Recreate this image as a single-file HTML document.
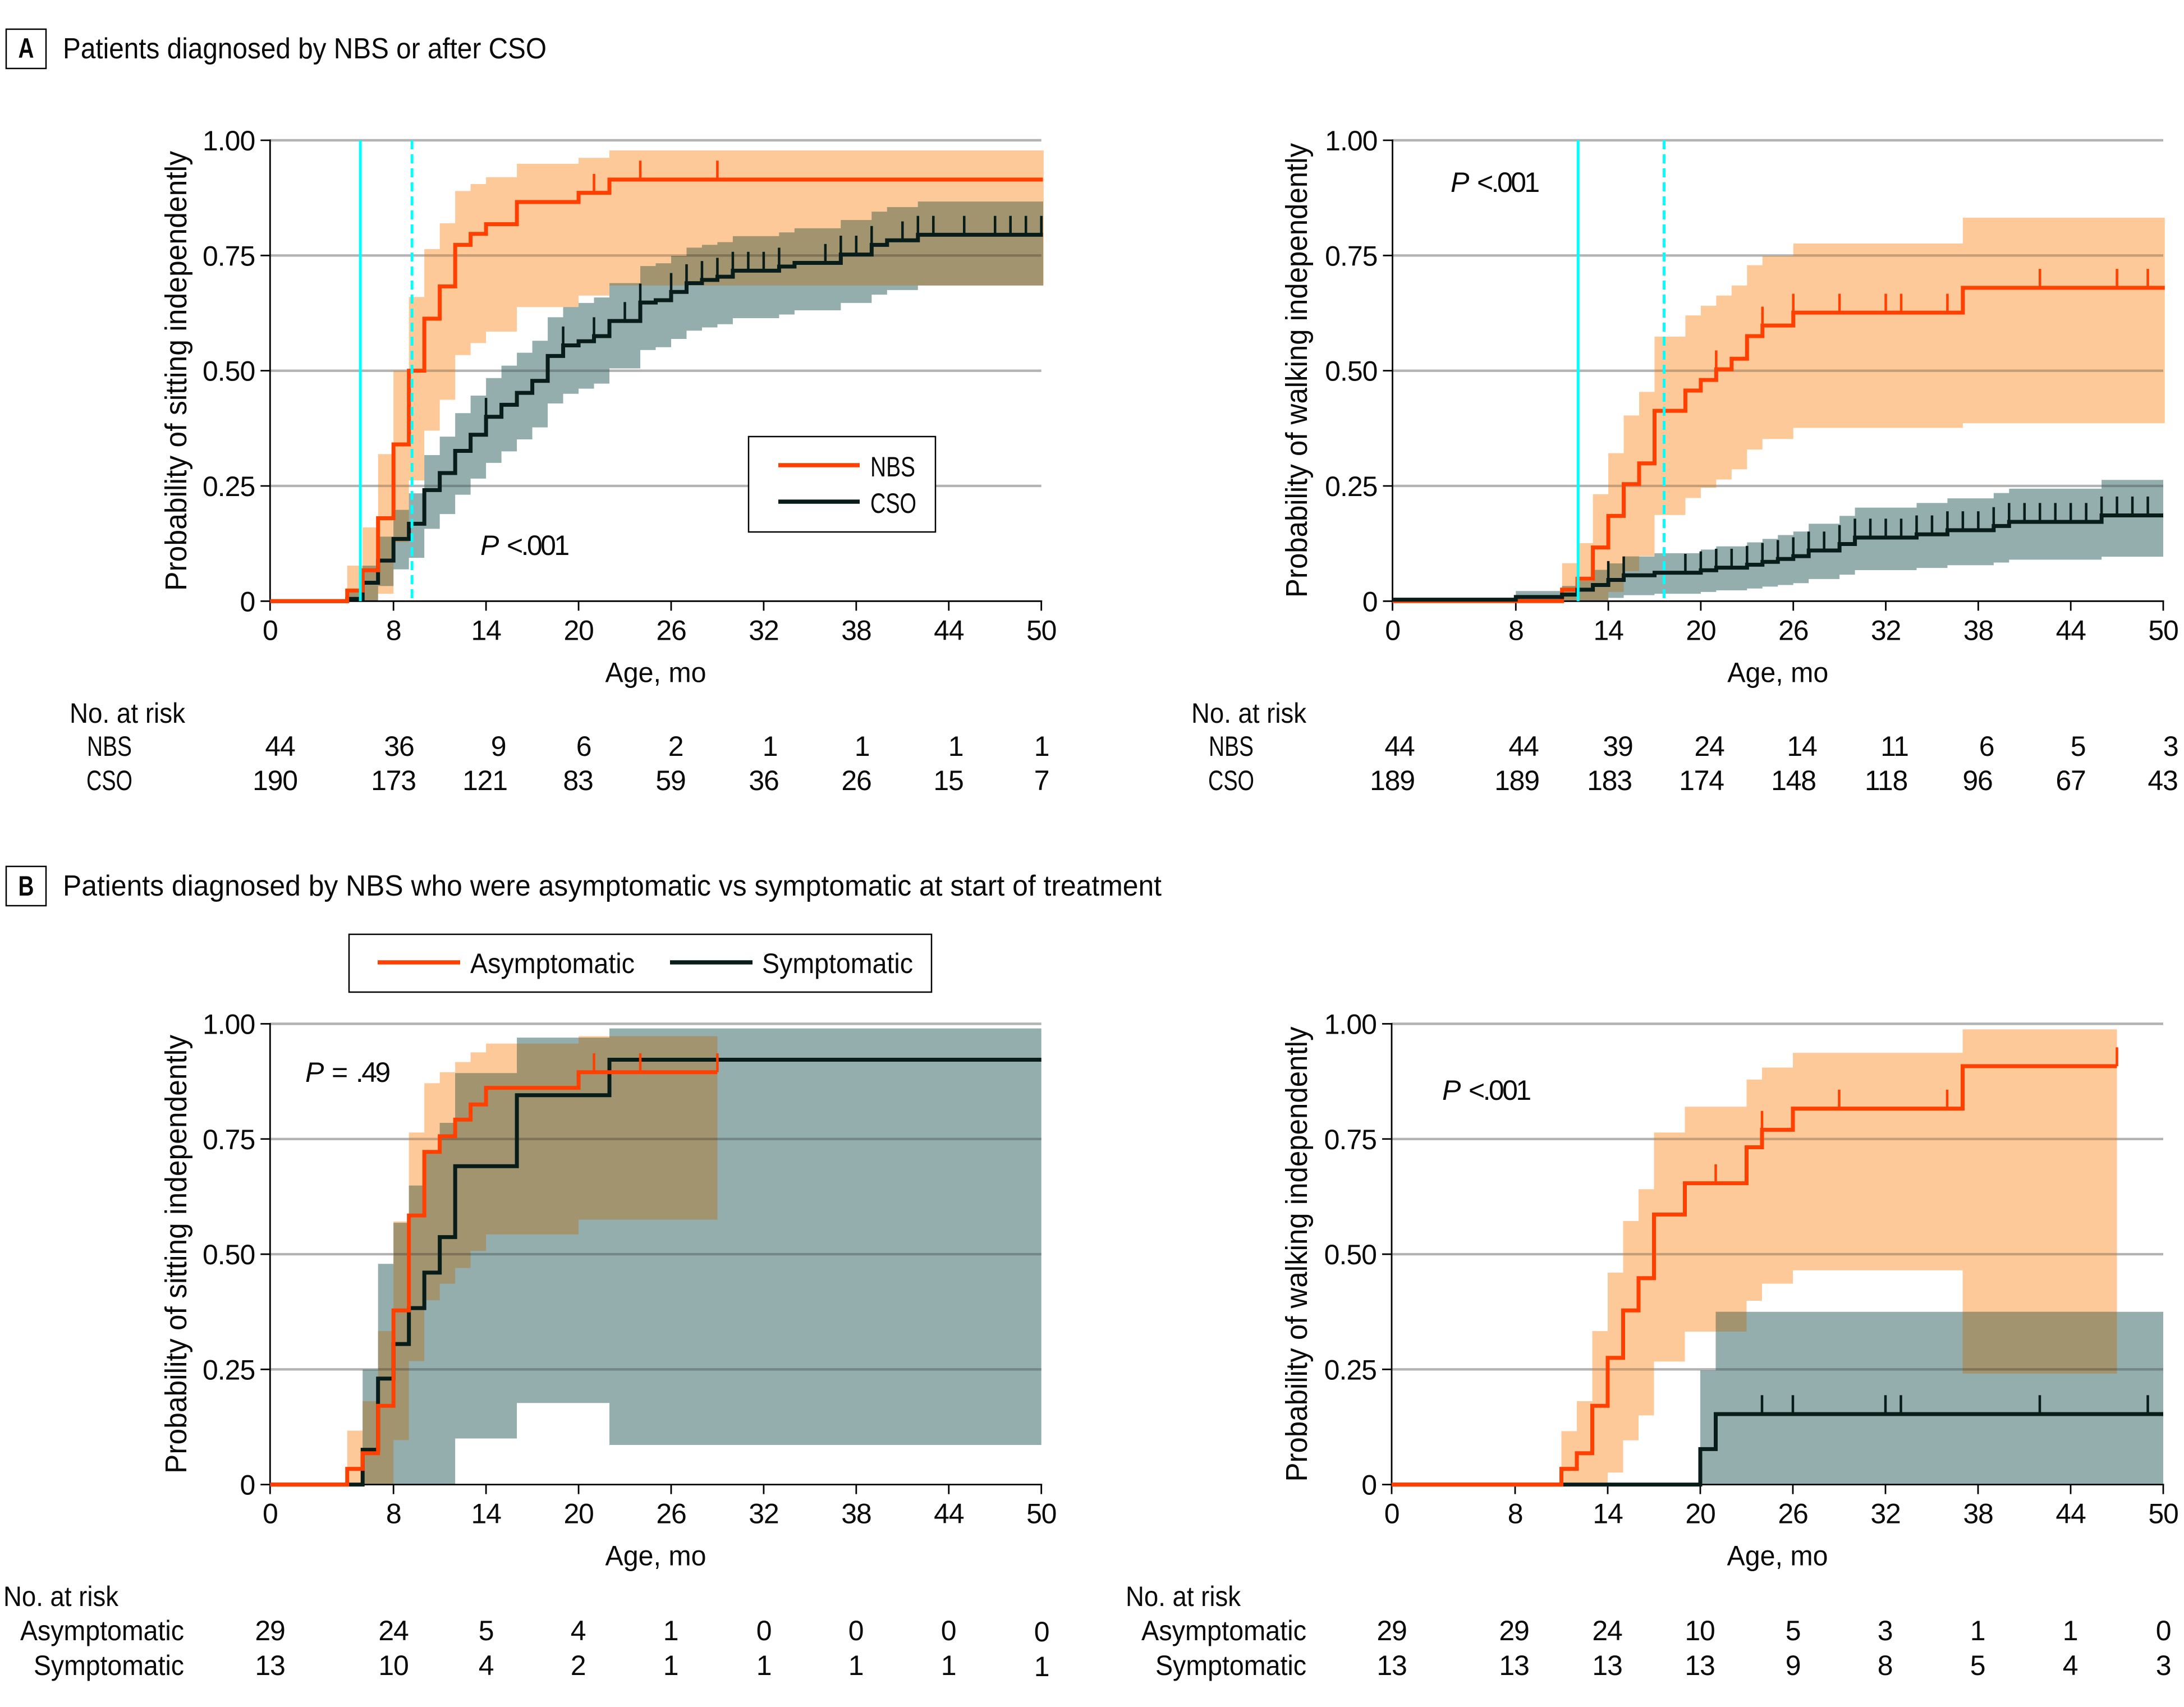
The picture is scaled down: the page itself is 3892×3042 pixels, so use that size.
<!DOCTYPE html>
<html lang="en">
<head>
<meta charset="utf-8">
<title>Kaplan-Meier motor milestones</title>
<style>
html,body{margin:0;padding:0;background:#fff;width:3892px;height:3042px;overflow:hidden}
svg{display:block}
text{font-family:"Liberation Sans",sans-serif;font-size:50px;fill:#0a0a0a}
.n{text-anchor:middle;letter-spacing:-1.2px}
.r{text-anchor:end}
.m{text-anchor:middle}
.title{font-size:52px}
.pv{letter-spacing:-3.6px;word-spacing:7px}
</style>
</head>
<body>
<svg xmlns="http://www.w3.org/2000/svg" width="3892" height="3042" viewBox="0 0 3892 3042">
<rect x="0" y="0" width="3892" height="3042" fill="#fff"/>

<g id="chart-a-sit"></g>
<g id="chart-a-walk"></g>
<g id="chart-b-sit"></g>
<g id="chart-b-walk"></g>

<rect x="11" y="52" width="71" height="70" fill="#fff" stroke="#000" stroke-width="2.5"/>
<text x="46.5" y="103" class="m" style="font-weight:700" textLength="28" lengthAdjust="spacingAndGlyphs">A</text>
<text x="112" y="104" class="title" textLength="862" lengthAdjust="spacingAndGlyphs">Patients diagnosed by NBS or after CSO</text>

<rect x="11" y="1544" width="71" height="70" fill="#fff" stroke="#000" stroke-width="2.5"/>
<text x="46.5" y="1596" class="m" style="font-weight:700" textLength="28" lengthAdjust="spacingAndGlyphs">B</text>
<text x="112" y="1596" class="title" textLength="1958" lengthAdjust="spacingAndGlyphs">Patients diagnosed by NBS who were asymptomatic vs symptomatic at start of treatment</text>

<g>
<rect x="1334" y="778" width="333" height="170" fill="#fff" stroke="#000" stroke-width="2.5"/>
<line x1="1387" x2="1532" y1="829" y2="829" stroke="#ff4000" stroke-width="7.5"/>
<text x="1551" y="849" textLength="80" lengthAdjust="spacingAndGlyphs">NBS</text>
<line x1="1387" x2="1532" y1="894" y2="894" stroke="#081c1a" stroke-width="7.5"/>
<text x="1551" y="914" textLength="82" lengthAdjust="spacingAndGlyphs">CSO</text>
</g>

<g>
<rect x="622" y="1665" width="1038" height="103" fill="#fff" stroke="#000" stroke-width="2.5"/>
<line x1="673" x2="820" y1="1715" y2="1715" stroke="#ff4000" stroke-width="7.5"/>
<text x="838" y="1734" textLength="293" lengthAdjust="spacingAndGlyphs">Asymptomatic</text>
<line x1="1194" x2="1341" y1="1715" y2="1715" stroke="#081c1a" stroke-width="7.5"/>
<text x="1358" y="1734" textLength="269" lengthAdjust="spacingAndGlyphs">Symptomatic</text>
</g>

<text x="856" y="989" class="pv"><tspan style="font-style:italic">P</tspan> &lt;.001</text>
<text x="2585" y="342" class="pv"><tspan style="font-style:italic">P</tspan> &lt;.001</text>
<text x="544" y="1928" class="pv"><tspan style="font-style:italic">P</tspan> = .49</text>
<text x="2570" y="1960" class="pv"><tspan style="font-style:italic">P</tspan> &lt;.001</text>

<g>
<text x="124" y="1288" textLength="206" lengthAdjust="spacingAndGlyphs">No. at risk</text>
<text x="195" y="1347" class="m" textLength="80" lengthAdjust="spacingAndGlyphs">NBS</text>
<text x="195" y="1408" class="m" textLength="82" lengthAdjust="spacingAndGlyphs">CSO</text>
<text x="499" y="1347" class="n">44</text><text x="711" y="1347" class="n">36</text><text x="888" y="1347" class="n">9</text><text x="1040" y="1347" class="n">6</text><text x="1204" y="1347" class="n">2</text><text x="1372" y="1347" class="n">1</text><text x="1536" y="1347" class="n">1</text><text x="1703" y="1347" class="n">1</text><text x="1856" y="1347" class="n">1</text>
<text x="490" y="1408" class="n">190</text><text x="701" y="1408" class="n">173</text><text x="864" y="1408" class="n">121</text><text x="1030" y="1408" class="n">83</text><text x="1195" y="1408" class="n">59</text><text x="1361" y="1408" class="n">36</text><text x="1526" y="1408" class="n">26</text><text x="1690" y="1408" class="n">15</text><text x="1856" y="1408" class="n">7</text>
</g>

<g>
<text x="2123" y="1288" textLength="205" lengthAdjust="spacingAndGlyphs">No. at risk</text>
<text x="2194" y="1347" class="m" textLength="80" lengthAdjust="spacingAndGlyphs">NBS</text>
<text x="2194" y="1408" class="m" textLength="82" lengthAdjust="spacingAndGlyphs">CSO</text>
<text x="2494" y="1347" class="n">44</text><text x="2715" y="1347" class="n">44</text><text x="2883" y="1347" class="n">39</text><text x="3046" y="1347" class="n">24</text><text x="3211" y="1347" class="n">14</text><text x="3376" y="1347" class="n">11</text><text x="3540" y="1347" class="n">6</text><text x="3703" y="1347" class="n">5</text><text x="3868" y="1347" class="n">3</text>
<text x="2481" y="1408" class="n">189</text><text x="2703" y="1408" class="n">189</text><text x="2868" y="1408" class="n">183</text><text x="3032" y="1408" class="n">174</text><text x="3196" y="1408" class="n">148</text><text x="3361" y="1408" class="n">118</text><text x="3524" y="1408" class="n">96</text><text x="3690" y="1408" class="n">67</text><text x="3854" y="1408" class="n">43</text>
</g>

<g>
<text x="6" y="2862" textLength="205" lengthAdjust="spacingAndGlyphs">No. at risk</text>
<text x="36" y="2923" textLength="292" lengthAdjust="spacingAndGlyphs">Asymptomatic</text>
<text x="60" y="2985" textLength="268" lengthAdjust="spacingAndGlyphs">Symptomatic</text>
<text x="481" y="2923" class="n">29</text><text x="701" y="2923" class="n">24</text><text x="866" y="2923" class="n">5</text><text x="1030" y="2923" class="n">4</text><text x="1195" y="2923" class="n">1</text><text x="1361" y="2923" class="n">0</text><text x="1525" y="2923" class="n">0</text><text x="1690" y="2923" class="n">0</text><text x="1856" y="2925" class="n">0</text>
<text x="481" y="2985" class="n">13</text><text x="701" y="2985" class="n">10</text><text x="866" y="2985" class="n">4</text><text x="1030" y="2985" class="n">2</text><text x="1195" y="2985" class="n">1</text><text x="1361" y="2985" class="n">1</text><text x="1525" y="2985" class="n">1</text><text x="1690" y="2985" class="n">1</text><text x="1856" y="2987" class="n">1</text>
</g>

<g>
<text x="2006" y="2862" textLength="205" lengthAdjust="spacingAndGlyphs">No. at risk</text>
<text x="2034" y="2923" textLength="294" lengthAdjust="spacingAndGlyphs">Asymptomatic</text>
<text x="2059" y="2985" textLength="269" lengthAdjust="spacingAndGlyphs">Symptomatic</text>
<text x="2480" y="2923" class="n">29</text><text x="2698" y="2923" class="n">29</text><text x="2864" y="2923" class="n">24</text><text x="3029" y="2923" class="n">10</text><text x="3195" y="2923" class="n">5</text><text x="3359" y="2923" class="n">3</text><text x="3524" y="2923" class="n">1</text><text x="3689" y="2923" class="n">1</text><text x="3855" y="2923" class="n">0</text>
<text x="2480" y="2985" class="n">13</text><text x="2698" y="2985" class="n">13</text><text x="2864" y="2985" class="n">13</text><text x="3029" y="2985" class="n">13</text><text x="3195" y="2985" class="n">9</text><text x="3359" y="2985" class="n">8</text><text x="3524" y="2985" class="n">5</text><text x="3689" y="2985" class="n">4</text><text x="3855" y="2985" class="n">3</text>
</g>
</svg>

<script>
/* ---- shared axis labels ---- */
const xTickLabels = [0, 8, 14, 20, 26, 32, 38, 44, 50];
const yTickValues = [0, 0.25, 0.5, 0.75, 1];
const yTickLabels = ['0', '0.25', '0.50', '0.75', '1.00'];

/* ---- A, sitting ---- */
const aSitNbsMonths = [0,5,6,7,8,9,10,11,12,13,14,16,20,22,50.1];
const aSitNbsProb = [0,.023,.067,.18,.34,.50,.613,.683,.773,.797,.818,.866,.886,.9148];
const aSitNbsBandMonths = [5,6,7,8,9,10,11,12,13,14,16,20,22,50.15];
const aSitNbsUpper = [.077,.16,.319,.50,.66,.764,.82,.89,.905,.92,.949,.962,.978];
const aSitNbsLower = [0,0,.016,.128,.262,.37,.437,.534,.56,.585,.638,.663,.685];
const aSitNbsCensored = [21,24,29];
const aSitCsoMonths = [0,5,6,7,8,9,10,11,12,13,14,15,16,17,18,19,20,21,22,24,25,26,27,28,29,30,33,34,37,39,40,42,50.1];
const aSitCsoProb = [0,.005,.04,.088,.135,.168,.241,.278,.326,.361,.40,.426,.452,.478,.532,.555,.564,.575,.608,.648,.653,.671,.69,.697,.704,.717,.726,.734,.752,.773,.783,.795];
const aSitCsoBandMonths = [5,6,7,8,9,10,11,12,13,14,15,16,17,18,19,20,21,22,24,25,26,27,28,29,30,33,34,37,39,40,42,50.12];
const aSitCsoUpper = [.02,.077,.14,.198,.234,.317,.357,.408,.446,.484,.511,.539,.565,.616,.638,.647,.659,.69,.727,.733,.749,.767,.773,.779,.792,.80,.809,.827,.845,.855,.867];
const aSitCsoLower = [0,0,.033,.069,.094,.157,.189,.231,.266,.30,.325,.351,.377,.429,.45,.461,.472,.505,.545,.551,.569,.587,.594,.601,.614,.622,.631,.647,.665,.675,.685];
const aSitCsoCensored = [14,19,21,23,24,26,27,28,29,30,31,32,33,36,37,38,39,41,42,43,45,47,48,49,50];

/* ---- A, walking ---- */
const aWalkNbsMonths = [0,11,12,13,14,15,16,17,19,20,21,22,23,24,26,37,50.1];
const aWalkNbsProb = [0,.025,.0487,.1165,.185,.254,.299,.413,.457,.48,.503,.526,.575,.598,.626,.68];
const aWalkNbsBandMonths = [11,12,13,14,15,16,17,19,20,21,22,23,24,26,37,50.1];
const aWalkNbsUpper = [.0824,.126,.232,.321,.403,.454,.574,.62,.641,.663,.685,.729,.749,.776,.832];
const aWalkNbsLower = [0,0,0,.02,.065,.098,.187,.224,.246,.264,.286,.329,.352,.376,.386];
const aWalkNbsCensored = [21,24,26,29,32,33,36,42,47,49];
const aWalkCsoMonths = [0,8,11,12,13,14,15,17,20,21,23,24,25,26,27,29,30,34,36,39,40,46,50];
const aWalkCsoProb = [.0032,.009,.0142,.0248,.035,.046,.056,.0617,.067,.0727,.079,.0853,.0915,.0976,.11,.124,.138,.145,.154,.163,.172,.186];
const aWalkCsoBandMonths = [8,11,12,13,14,15,17,20,21,23,24,25,26,27,29,30,34,36,39,40,46,50];
const aWalkCsoUpper = [.022,.033,.044,.068,.082,.097,.104,.112,.119,.1276,.135,.1435,.151,.168,.185,.203,.213,.223,.2346,.244,.263];
const aWalkCsoLower = [.002,.002,.002,.002,.007,.013,.016,.02,.0235,.0275,.0316,.035,.039,.048,.0574,.0673,.072,.078,.0837,.09,.0964];
const aWalkCsoCensored = [14,15,19,20,21,22,23,24,25,26,27,28,29,30,31,32,33,34,35,36,37,38,39,40,41,42,43,44,45,46,47,48,49];

/* ---- B, sitting ---- */
const bSitAsymMonths = [0,5,6,7,8,9,10,11,12,13,14,20,29];
const bSitAsymProb = [0,.034,.068,.171,.378,.584,.722,.756,.792,.825,.861,.895];
const bSitAsymBandMonths = [5,6,7,8,9,10,11,12,13,14,20,29];
const bSitAsymUpper = [.117,.181,.333,.571,.764,.871,.895,.917,.938,.957,.973];
const bSitAsymLower = [0,0,0,.0965,.268,.40,.436,.47,.507,.543,.575];
const bSitAsymCensored = [21,24,29];
const bSitSymMonths = [0,6,7,8,9,10,11,12,16,22,50];
const bSitSymProb = [0,.0755,.23,.305,.383,.46,.537,.691,.845,.922];
const bSitSymBandMonths = [6,7,8,9,10,11,12,16,22,50];
const bSitSymUpper = [.25,.479,.568,.649,.72,.785,.893,.97,.99];
const bSitSymLower = [0,0,0,0,0,0,.10,.177,.086];
const bSitSymCensored = [];

/* ---- B, walking ---- */
const bWalkAsymMonths = [0,11,12,13,14,15,16,17,19,23,24,26,37,47];
const bWalkAsymProb = [0,.034,.068,.171,.275,.378,.448,.586,.654,.732,.77,.816,.908];
const bWalkAsymBandMonths = [11,12,13,14,15,16,17,19,23,24,26,37,47];
const bWalkAsymUpper = [.116,.181,.333,.46,.572,.641,.764,.82,.879,.905,.937,.988];
const bWalkAsymLower = [0,0,0,.026,.096,.15,.267,.332,.399,.436,.465,.241];
const bWalkAsymCensored = [21,24,29,36,47];
const bWalkSymMonths = [0,20,21,50];
const bWalkSymProb = [0,.077,.153];
const bWalkSymBandMonths = [20,21,50];
const bWalkSymUpper = [.248,.375];
const bWalkSymLower = [0,0];
const bWalkSymCensored = [24,26,32,33,42,49];

/* ---- vertical reference ages ---- */
const aSitMedianAges = [5.85, 9.2];
const aWalkMedianAges = [12.04, 17.62];

const NS = 'http://www.w3.org/2000/svg';
const ORANGE = '#ff4000', DARK = '#081c1a', BAND_O = '#fdc998', BAND_T = '#94aeae', BAND_MIX = '#a39470', CYAN = '#00ffff';
let clipCounter = 0;

function stepPath(months, probs, x, y) {
  let d = 'M' + x(months[0]) + ' ' + y(probs[0]);
  for (let i = 1; i < months.length; i++) {
    d += 'H' + x(months[i]);
    if (i < probs.length) d += 'V' + y(probs[i]);
  }
  return d;
}

function bandPath(months, upper, lower, x, y) {
  let d = 'M' + x(months[0]) + ' ' + y(upper[0]);
  for (let i = 1; i < months.length; i++) {
    d += 'H' + x(months[i]);
    if (i < upper.length) d += 'V' + y(upper[i]);
  }
  d += 'V' + y(lower[lower.length - 1]);
  for (let i = lower.length - 1; i >= 0; i--) {
    d += 'H' + x(months[i]);
    if (i > 0) d += 'V' + y(lower[i - 1]);
  }
  return d + 'Z';
}

function probAt(months, probs, m) {
  let p = probs[0];
  for (let i = 0; i < probs.length; i++) if (m >= months[i]) p = probs[i];
  return p;
}

function drawChart(cfg) {
  const root = document.getElementById(cfg.id);
  const x = m => cfg.x0 + (m / 50) * (cfg.x50 - cfg.x0);
  const y = v => cfg.y0 - v * (cfg.y0 - cfg.y1);

  /* base gridlines, visible on the white background */
  yTickValues.forEach(function (v) {
    if (v === 0) return;
    const g = document.createElementNS(NS, 'line');
    
    
    g.setAttribute('x1', x(0));
    g.setAttribute('x2', x(50));
    g.setAttribute('y1', y(v));
    g.setAttribute('y2', y(v));
    g.setAttribute('stroke', '#b3b3b3');
    g.setAttribute('stroke-width', '4.4');
    root.appendChild(g);
  });

  /* bands */
  const dO = bandPath(cfg.orange.bandMonths, cfg.orange.upper, cfg.orange.lower, x, y);
  const dT = bandPath(cfg.dark.bandMonths, cfg.dark.upper, cfg.dark.lower, x, y);
  const bandO = document.createElementNS(NS, 'path');
  
  
  bandO.setAttribute('d', dO);
  bandO.setAttribute('fill', BAND_O);
  root.appendChild(bandO);
  const bandT = document.createElementNS(NS, 'path');
  
  
  bandT.setAttribute('d', dT);
  bandT.setAttribute('fill', BAND_T);
  root.appendChild(bandT);
  const clip = document.createElementNS(NS, 'clipPath');
  clip.setAttribute('id', 'overlap-clip-' + (++clipCounter));
  const clipShape = document.createElementNS(NS, 'path');
  clipShape.setAttribute('d', dO);
  clip.appendChild(clipShape);
  root.appendChild(clip);
  const overlap = document.createElementNS(NS, 'path');
  
  
  overlap.setAttribute('d', dT);
  overlap.setAttribute('fill', BAND_MIX);
  overlap.setAttribute('clip-path', 'url(#overlap-clip-' + clipCounter + ')');
  root.appendChild(overlap);

  /* gridlines shaded through the bands */
  const unionClip = document.createElementNS(NS, 'clipPath');
  unionClip.setAttribute('id', 'band-clip-' + clipCounter);
  const unionO = document.createElementNS(NS, 'path');
  unionO.setAttribute('d', dO);
  unionClip.appendChild(unionO);
  const unionT = document.createElementNS(NS, 'path');
  unionT.setAttribute('d', dT);
  unionClip.appendChild(unionT);
  root.appendChild(unionClip);
  yTickValues.forEach(function (v) {
    if (v === 0) return;
    const g = document.createElementNS(NS, 'line');
    
    
    g.setAttribute('x1', x(0));
    g.setAttribute('x2', x(50));
    g.setAttribute('y1', y(v));
    g.setAttribute('y2', y(v));
    g.setAttribute('stroke', '#000');
    g.setAttribute('stroke-opacity', '0.22');
    g.setAttribute('stroke-width', '4.4');
    g.setAttribute('clip-path', 'url(#band-clip-' + clipCounter + ')');
    root.appendChild(g);
  });

  /* axes */
  const axisY = document.createElementNS(NS, 'line');
  
  
  axisY.setAttribute('x1', x(0));
  axisY.setAttribute('x2', x(0));
  axisY.setAttribute('y1', y(1) - 1.5);
  axisY.setAttribute('y2', y(0) + 1.5);
  axisY.setAttribute('stroke', '#000');
  axisY.setAttribute('stroke-width', '2.8');
  root.appendChild(axisY);
  const axisX = document.createElementNS(NS, 'line');
  
  
  axisX.setAttribute('x1', x(0) - 1.5);
  axisX.setAttribute('x2', x(50) + 1.5);
  axisX.setAttribute('y1', y(0));
  axisX.setAttribute('y2', y(0));
  axisX.setAttribute('stroke', '#000');
  axisX.setAttribute('stroke-width', '2.8');
  root.appendChild(axisX);

  xTickLabels.forEach(function (m) {
    const t = document.createElementNS(NS, 'line');
    
    
    t.setAttribute('x1', x(m));
    t.setAttribute('x2', x(m));
    t.setAttribute('y1', y(0));
    t.setAttribute('y2', y(0) + 17);
    t.setAttribute('stroke', '#000');
    t.setAttribute('stroke-width', '2.8');
    root.appendChild(t);
    const l = document.createElementNS(NS, 'text');
    
    
    l.setAttribute('x', x(m));
    l.setAttribute('y', y(0) + 69);
    l.setAttribute('class', 'n');
    l.textContent = String(m);
    root.appendChild(l);
  });
  yTickValues.forEach(function (v, i) {
    const t = document.createElementNS(NS, 'line');
    
    
    t.setAttribute('x1', x(0) - 17);
    t.setAttribute('x2', x(0));
    t.setAttribute('y1', y(v));
    t.setAttribute('y2', y(v));
    t.setAttribute('stroke', '#000');
    t.setAttribute('stroke-width', '2.8');
    root.appendChild(t);
    const l = document.createElementNS(NS, 'text');
    
    
    l.setAttribute('x', x(0) - 27);
    l.setAttribute('y', y(v) + 18);
    l.setAttribute('class', 'r');
    l.setAttribute('style', 'letter-spacing:-1px');
    l.textContent = yTickLabels[i];
    root.appendChild(l);
  });

  /* axis titles */
  const xTitle = document.createElementNS(NS, 'text');
  
  
  xTitle.setAttribute('x', x(25));
  xTitle.setAttribute('y', y(0) + cfg.xTitleOffset);
  xTitle.setAttribute('class', 'm');
  xTitle.setAttribute('textLength', '180');
  xTitle.setAttribute('lengthAdjust', 'spacingAndGlyphs');
  xTitle.textContent = 'Age, mo';
  root.appendChild(xTitle);
  const yTitle = document.createElementNS(NS, 'text');
  
  
  yTitle.setAttribute('transform', 'translate(' + cfg.yTitleX + ' ' + cfg.yTitleY + ') rotate(-90)');
  yTitle.setAttribute('class', 'm');
  yTitle.setAttribute('style', 'font-size:54px');
  yTitle.setAttribute('textLength', cfg.yTitleLen);
  yTitle.setAttribute('lengthAdjust', 'spacingAndGlyphs');
  yTitle.textContent = cfg.yTitle;
  root.appendChild(yTitle);

  /* series */
  const order = cfg.darkOnTop ? [cfg.orange, cfg.dark] : [cfg.dark, cfg.orange];
  order.forEach(function (s) {
    const colour = s === cfg.orange ? ORANGE : DARK;
    s.censored.forEach(function (m) {
      const p = probAt(s.months, s.probs, m);
      const c = document.createElementNS(NS, 'line');
      
      
      c.setAttribute('x1', x(m));
      c.setAttribute('x2', x(m));
      c.setAttribute('y1', y(p));
      c.setAttribute('y2', y(p + 0.041));
      c.setAttribute('stroke', colour);
      c.setAttribute('stroke-width', '4.5');
      root.appendChild(c);
    });
    const line = document.createElementNS(NS, 'path');
    
    
    line.setAttribute('d', stepPath(s.months, s.probs, x, y));
    line.setAttribute('fill', 'none');
    line.setAttribute('stroke', colour);
    line.setAttribute('stroke-width', '7');
    line.setAttribute('stroke-linejoin', 'miter');
    root.appendChild(line);
  });

  /* median age reference lines */
  if (cfg.medians) {
    const solid = document.createElementNS(NS, 'line');
    
    
    solid.setAttribute('x1', x(cfg.medians[0]));
    solid.setAttribute('x2', x(cfg.medians[0]));
    solid.setAttribute('y1', y(1));
    solid.setAttribute('y2', y(0));
    solid.setAttribute('stroke', CYAN);
    solid.setAttribute('stroke-width', '5');
    root.appendChild(solid);
    const dashed = document.createElementNS(NS, 'line');
    
    
    dashed.setAttribute('x1', x(cfg.medians[1]));
    dashed.setAttribute('x2', x(cfg.medians[1]));
    dashed.setAttribute('y1', y(1));
    dashed.setAttribute('y2', y(0) - 4);
    dashed.setAttribute('stroke', CYAN);
    dashed.setAttribute('stroke-width', '5');
    dashed.setAttribute('stroke-dasharray', '16 9');
    root.appendChild(dashed);
  }
}

drawChart({
  id: 'chart-a-sit', x0: 481.3, x50: 1855.7, y0: 1071.3, y1: 250, xTitleOffset: 144,
  yTitle: 'Probability of sitting independently', yTitleX: 332, yTitleY: 661, yTitleLen: 784,
  medians: aSitMedianAges, darkOnTop: false,
  orange: { name: 'nbs', months: aSitNbsMonths, probs: aSitNbsProb, bandMonths: aSitNbsBandMonths, upper: aSitNbsUpper, lower: aSitNbsLower, censored: aSitNbsCensored },
  dark: { name: 'cso', months: aSitCsoMonths, probs: aSitCsoProb, bandMonths: aSitCsoBandMonths, upper: aSitCsoUpper, lower: aSitCsoLower, censored: aSitCsoCensored }
});
drawChart({
  id: 'chart-a-walk', x0: 2481.5, x50: 3855, y0: 1071.3, y1: 250, xTitleOffset: 144,
  yTitle: 'Probability of walking independently', yTitleX: 2329, yTitleY: 660, yTitleLen: 810,
  medians: aWalkMedianAges, darkOnTop: true,
  orange: { name: 'nbs', months: aWalkNbsMonths, probs: aWalkNbsProb, bandMonths: aWalkNbsBandMonths, upper: aWalkNbsUpper, lower: aWalkNbsLower, censored: aWalkNbsCensored },
  dark: { name: 'cso', months: aWalkCsoMonths, probs: aWalkCsoProb, bandMonths: aWalkCsoBandMonths, upper: aWalkCsoUpper, lower: aWalkCsoLower, censored: aWalkCsoCensored }
});
drawChart({
  id: 'chart-b-sit', x0: 481.3, x50: 1855.7, y0: 2645.6, y1: 1824.5, xTitleOffset: 144,
  yTitle: 'Probability of sitting independently', yTitleX: 332, yTitleY: 2235, yTitleLen: 782,
  darkOnTop: false,
  orange: { name: 'asymptomatic', months: bSitAsymMonths, probs: bSitAsymProb, bandMonths: bSitAsymBandMonths, upper: bSitAsymUpper, lower: bSitAsymLower, censored: bSitAsymCensored },
  dark: { name: 'symptomatic', months: bSitSymMonths, probs: bSitSymProb, bandMonths: bSitSymBandMonths, upper: bSitSymUpper, lower: bSitSymLower, censored: bSitSymCensored }
});
drawChart({
  id: 'chart-b-walk', x0: 2480, x50: 3855, y0: 2645.6, y1: 1824.5, xTitleOffset: 144,
  yTitle: 'Probability of walking independently', yTitleX: 2329, yTitleY: 2235, yTitleLen: 811,
  darkOnTop: false,
  orange: { name: 'asymptomatic', months: bWalkAsymMonths, probs: bWalkAsymProb, bandMonths: bWalkAsymBandMonths, upper: bWalkAsymUpper, lower: bWalkAsymLower, censored: bWalkAsymCensored },
  dark: { name: 'symptomatic', months: bWalkSymMonths, probs: bWalkSymProb, bandMonths: bWalkSymBandMonths, upper: bWalkSymUpper, lower: bWalkSymLower, censored: bWalkSymCensored }
});
</script>
</body>
</html>
